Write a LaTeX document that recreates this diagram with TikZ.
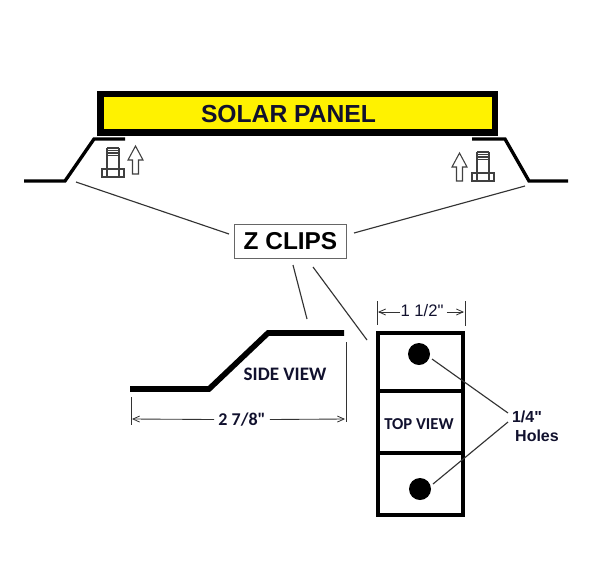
\documentclass[tikz,border=0pt]{standalone}
\usetikzlibrary{arrows.meta}
\usepackage{fontspec}
\setmainfont{Liberation Sans}
\newfontfamily\carlito{Carlito}
\newfontfamily\plainsans{Liberation Sans}
\definecolor{panelyellow}{HTML}{FFF200}
\definecolor{leader}{HTML}{333333}
\definecolor{ink}{HTML}{11112E}
\tikzset{
  clipline/.style={line width=2.5pt,line join=miter},
  sideline/.style={line width=4.2pt,line join=miter},
  leaderline/.style={line width=0.85pt,draw=leader},
  dimline/.style={line width=0.65pt,draw=leader},
  boltline/.style={line width=0.8pt,draw=black!75},
  halfbarb/.style={-{Straight Barb[length=5pt,width=4.5pt,line width=0.6pt]}},
  label/.style={inner sep=0pt,text=ink,align=center},
  holedot/.style={circle,fill=black,inner sep=0pt,minimum size=16.5pt},
}
\newcommand{\boltshape}[1]{%
  \begin{scope}[shift={#1}]
    \draw[boltline] (0,21) rectangle (22,29);
    \draw[boltline] (5,21) -- (5,29) (17,21) -- (17,29);
    \draw[boltline] (5,21) -- (5,0) (17,21) -- (17,0);
    \draw[boltline] (5,0) -- (17,0) (5,2.5) -- (17,2.5) (5,5) -- (17,5) (5,7.5) -- (17,7.5);
  \end{scope}}
\newcommand{\uparrowshape}[1]{%
  \begin{scope}[shift={#1}]
    \draw[boltline,line join=miter] (0,0) -- (7.5,14) -- (3,14) -- (3,28) -- (-3,28) -- (-3,14) -- (-7.5,14) -- cycle;
  \end{scope}}
\begin{document}
\begin{tikzpicture}[x=0.75pt,y=-0.75pt]
\useasboundingbox (0,0) rectangle (600,562);
\fill[white] (0,0) rectangle (600,562);
% panel
\node[draw=black,fill=panelyellow,line width=5pt,minimum width=296pt,minimum height=28.9pt,inner sep=0pt,anchor=center] (panel) at (297.75,113.25) {};
\node[label,font=\bfseries\fontsize{18.5}{20}\selectfont] (paneltext) at (288.5,114.5) {SOLAR PANEL};
% roof clips
\coordinate (la) at (24,181); \coordinate (lb) at (65,181); \coordinate (lc) at (94,139); \coordinate (ld) at (125,139);
\coordinate (ra) at (472,139); \coordinate (rb) at (505,139); \coordinate (rc) at (529,181); \coordinate (rd) at (568,181);
\draw[clipline] (la) -- (lb) -- (lc) -- (ld);
\draw[clipline] (ra) -- (rb) -- (rc) -- (rd);
\boltshape{(102,148)}
\boltshape{(472,152)}
\uparrowshape{(135.5,146)}
\uparrowshape{(459.5,153)}
% Z clips label
\node[draw=black!60,line width=0.8pt,minimum width=84.5pt,minimum height=26pt,inner sep=0pt,font=\bfseries\fontsize{18.3}{20}\selectfont,text=black] (zclips) at (290.5,241.5) {Z CLIPS};
\coordinate (l1a) at (76,182); \coordinate (l1b) at (229,234);
\coordinate (l2a) at (525,186); \coordinate (l2b) at (354,233);
\coordinate (l3a) at (293,265); \coordinate (l3b) at (307,319);
\coordinate (l4a) at (313,267); \coordinate (l4b) at (367,340);
\draw[leaderline] (l1a) -- (l1b);
\draw[leaderline] (l2a) -- (l2b);
\draw[leaderline] (l3a) -- (l3b);
\draw[leaderline] (l4a) -- (l4b);
% side view
\coordinate (sa) at (130,389); \coordinate (sb) at (209,389); \coordinate (sc) at (268,333); \coordinate (sd) at (344,333);
\draw[sideline] (sa) -- (sb) -- (sc) -- (sd);
\node[label,font=\carlito\bfseries\fontsize{14.3}{16}\selectfont] (sideview) at (285,374) {SIDE VIEW};
\coordinate (t1a) at (131,397); \coordinate (t1b) at (131,425);
\coordinate (t2a) at (346,342); \coordinate (t2b) at (346,422);
\draw[dimline] (t1a) -- (t1b);
\draw[dimline] (t2a) -- (t2b);
\node[label,font=\carlito\bfseries\fontsize{13.5}{16}\selectfont] (dimside) at (242,419.5) {2 7/8"};
\coordinate (dl) at (132,419); \coordinate (dr) at (345,419);
\draw[dimline,halfbarb] (dimside.west) ++(-4,0) -- (dl);
\draw[dimline,halfbarb] (dimside.east) ++(4,0) -- (dr);
% top view
\node[draw=black,line width=3pt,minimum width=63.5pt,minimum height=136.5pt,inner sep=0pt] (topbox) at (420.5,424) {};
\coordinate (d1l) at (377,391); \coordinate (d1r) at (464,391);
\coordinate (d2l) at (377,453); \coordinate (d2r) at (464,453);
\draw[line width=3pt] (d1l) -- (d1r);
\draw[line width=3pt] (d2l) -- (d2r);
\node[holedot] (hole1) at (419,354) {};
\node[holedot] (hole2) at (420,489) {};
\node[label,font=\carlito\bfseries\fontsize{12.5}{14}\selectfont] (topview) at (419,424) {TOP VIEW};
\coordinate (t3a) at (377,301); \coordinate (t3b) at (377,325);
\coordinate (t4a) at (465,301); \coordinate (t4b) at (465,326);
\draw[dimline] (t3a) -- (t3b);
\draw[dimline] (t4a) -- (t4b);
\node[label,font=\plainsans\fontsize{12.5}{14}\selectfont] (dimtop) at (422,311) {1 1/2"};
\coordinate (el) at (378,312); \coordinate (er) at (464,312);
\draw[dimline,halfbarb] (dimtop.west) ++(0,1) -- (el);
\draw[dimline,halfbarb] (dimtop.east) ++(3,1) -- (er);
% holes label
\node[label,font=\plainsans\bfseries\fontsize{12}{14}\selectfont] (quarter) at (527,417) {1/4"};
\node[label,font=\plainsans\bfseries\fontsize{12}{14}\selectfont] (holes) at (537,436) {Holes};
\coordinate (h1) at (508,413); \coordinate (h2) at (508,422);
\coordinate (h1s) at (432,359); \coordinate (h2s) at (433,484);
\draw[leaderline] (h1s) -- (h1);
\draw[leaderline] (h2s) -- (h2);
\end{tikzpicture}
\end{document}
